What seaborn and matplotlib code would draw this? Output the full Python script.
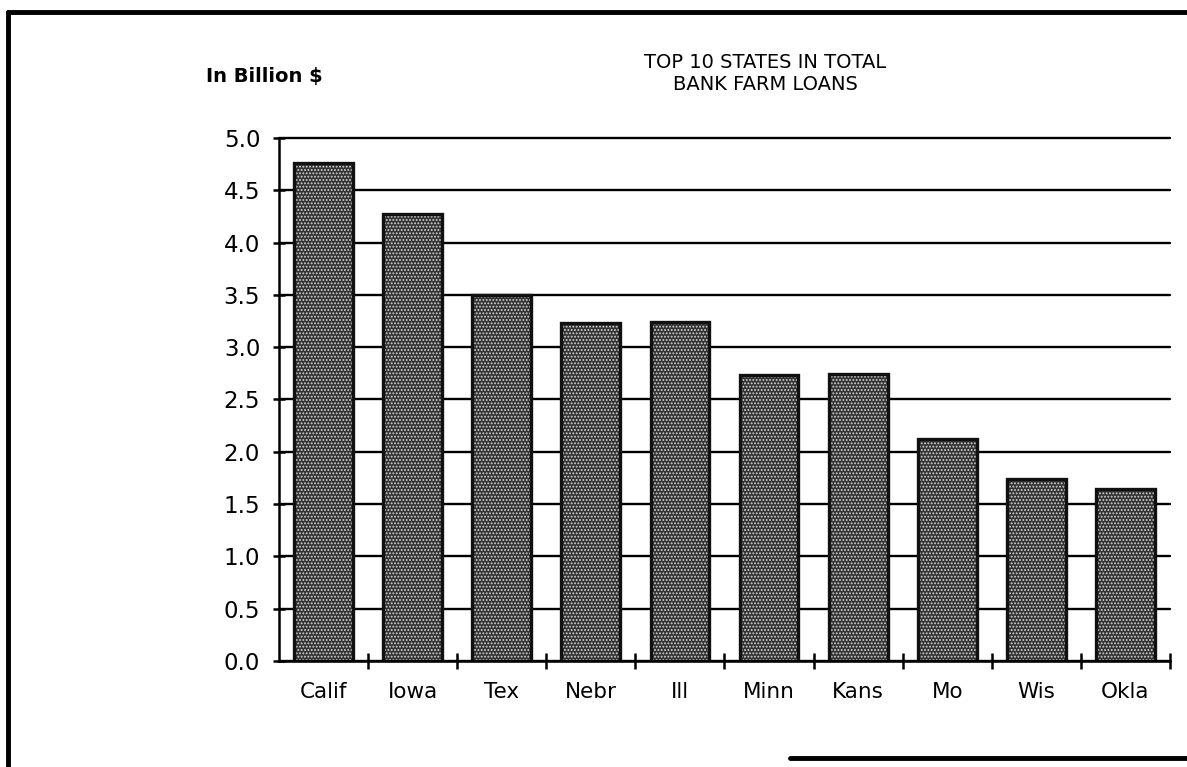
import matplotlib
matplotlib.use("Agg")
import matplotlib.pyplot as plt
from matplotlib.lines import Line2D
from matplotlib.ticker import FixedLocator
import seaborn as sns
import pandas as pd

# Top 10 states by total bank farm loans (billions of dollars)
states = ["Calif", "Iowa", "Tex", "Nebr", "Ill", "Minn", "Kans", "Mo", "Wis", "Okla"]
loans = [4.76, 4.27, 3.50, 3.23, 3.24, 2.73, 2.74, 2.12, 1.74, 1.64]
y_ticks = [0.0, 0.5, 1.0, 1.5, 2.0, 2.5, 3.0, 3.5, 4.0, 4.5, 5.0]

sns.set_theme(style="white")
plt.rcParams["font.family"] = ["DejaVu Sans"]
plt.rcParams["hatch.linewidth"] = 0.9

df = pd.DataFrame({"state": states, "loans": loans})

fig = plt.figure(figsize=(11.87, 7.67), dpi=100)
fig.patch.set_facecolor("white")
ax = fig.add_axes([0.2350, 0.1382, 0.7507, 0.6819])
ax.set_facecolor("white")

# stippled bar fill: dark face with light dot hatching
sns.barplot(data=df, x="state", y="loans", order=states, color="#333333",
            width=0.66, edgecolor="#d4d4d4", linewidth=0, ax=ax)
n_fill = len(ax.patches)
for p in ax.patches:
    p.set_hatch(".....")
    p.set_facecolor("#333333")
    p.set_linewidth(0)

# dark outline around each bar
sns.barplot(data=df, x="state", y="loans", order=states, color="none",
            width=0.66, edgecolor="#111111", linewidth=2.4, ax=ax)
for p in ax.patches[n_fill:]:
    p.set_facecolor("none")
    p.set_edgecolor("#111111")
    p.set_linewidth(2.4)

ax.set_xlim(-0.5, len(states) - 0.5)
ax.set_ylim(0, 5.0)
ax.set_yticks(y_ticks)
ax.set_yticklabels([f"{v:.1f}" for v in y_ticks])

# horizontal grid lines behind the bars
ax.set_axisbelow(True)
ax.yaxis.grid(True, color="black", linewidth=1.7)
ax.xaxis.grid(False)
for gl in ax.get_ygridlines():
    gl.set_clip_on(False)

for side in ["top", "right"]:
    ax.spines[side].set_visible(False)
for side in ["left", "bottom"]:
    ax.spines[side].set_color("black")
    ax.spines[side].set_linewidth(1.8)

ax.tick_params(axis="y", which="major", direction="inout", length=9, width=1.8,
               color="black", pad=9, labelsize=16.5, labelcolor="black", left=True)
ax.tick_params(axis="x", which="major", length=0, pad=15, labelsize=15.5,
               labelcolor="black")
# tick marks between categories
ax.xaxis.set_minor_locator(FixedLocator([i - 0.5 for i in range(1, len(states) + 1)]))
ax.tick_params(axis="x", which="minor", direction="inout", length=12, width=1.8,
               color="black", bottom=True)

ax.set_xlabel("")
ax.set_ylabel("")

fig.text(0.2224, 0.9009, "In Billion $", ha="center", va="center",
         fontsize=14, fontweight="bold", color="black")
fig.text(0.645, 0.904, "TOP 10 STATES IN TOTAL\nBANK FARM LOANS", ha="center",
         va="center", fontsize=14, color="black", linespacing=1.2)

# page frame
frame_kw = dict(color="black", linewidth=3.5, transform=fig.transFigure)
fig.add_artist(Line2D([0.0068, 1.0], [1 - 12 / 767, 1 - 12 / 767], **frame_kw))
fig.add_artist(Line2D([0.0068, 0.0068], [0.0, 1 - 12 / 767], **frame_kw))
fig.add_artist(Line2D([790 / 1187, 1.0], [1 - 758 / 767, 1 - 758 / 767], **frame_kw))

fig.savefig("out.png", dpi=100, facecolor="white")
